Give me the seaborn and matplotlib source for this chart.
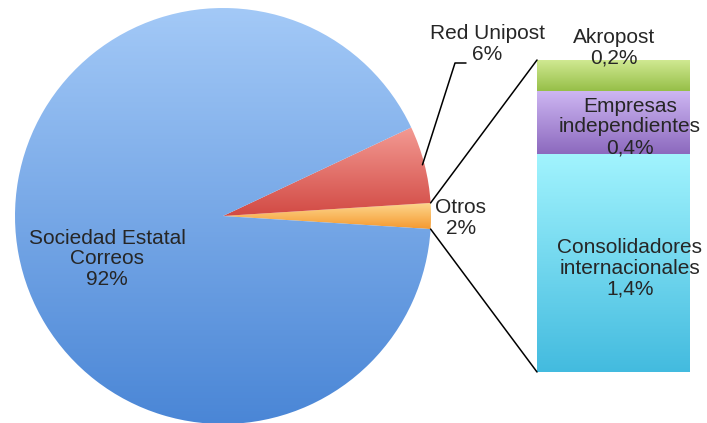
import matplotlib.pyplot as plt
import numpy as np
import seaborn as sns
from matplotlib.colors import LinearSegmentedColormap
from matplotlib.lines import Line2D
from matplotlib.patches import ConnectionPatch

### Data
pie_labels = ['Otros', 'Red Unipost', 'Sociedad Estatal\nCorreos']
pie_values = [2, 6, 92]
pie_tops = ['#FDD991', '#F39A93', '#A3C9F7']
pie_bottoms = ['#F5992F', '#D24A44', '#4A86D6']

bar_labels = ['Consolidadores\ninternacionales', 'Empresas\nindependientes', 'Akropost']
bar_values = [1.4, 0.4, 0.2]
bar_tops = ['#A2F4FE', '#CDB6F2', '#D2EA94']
bar_bottoms = ['#43BBDF', '#8C69BE', '#96BF48']

W, H = 707, 423


def fx(px):
    return px / W


def fy(py):
    return 1 - py / H


def fill_gradient(ax, patch, top, bottom, extent=None):
    """Paint a patch with a vertical gradient (light on top)."""
    cmap = LinearSegmentedColormap.from_list('g', [bottom, top])
    if extent is None:
        bb = patch.get_extents().transformed(ax.transData.inverted())
        extent = (bb.x0, bb.x1, bb.y0, bb.y1)
    grad = np.linspace(0, 1, 256).reshape(-1, 1)
    im = ax.imshow(grad, cmap=cmap, extent=extent, origin='lower',
                   aspect='auto', zorder=patch.get_zorder())
    im.set_clip_path(patch)
    patch.set_facecolor('none')


sns.set_theme(style='white')
plt.rcParams['font.family'] = ['Liberation Sans', 'DejaVu Sans']
FS = 15

fig = plt.figure(figsize=(W / 100, H / 100), dpi=100)
fig.patch.set_facecolor('white')

### Pie
cx, cy, r = 223, 216, 208
pax = fig.add_axes([fx(cx - r), fy(cy + r), (2 * r) / W, (2 * r) / H])
start = -pie_values[0] / 100 * 360 / 2
wedges, _ = pax.pie(pie_values, startangle=start, counterclock=True,
                    wedgeprops=dict(edgecolor='white', linewidth=0.6))
pax.set_xlim(-1, 1)
pax.set_ylim(-1, 1)
pax.set_aspect('equal')
for w, t, b in zip(wedges, pie_tops, pie_bottoms):
    fill_gradient(pax, w, t, b)
pax.set_xlim(-1, 1)
pax.set_ylim(-1, 1)
pax.axis('off')

### Stacked bar (cumulative bars drawn largest first)
bx0, bx1, by0, by1 = 537, 690, 60, 372
bax = fig.add_axes([fx(bx0), fy(by1), (bx1 - bx0) / W, (by1 - by0) / H])
cum = np.cumsum(bar_values)
for i in range(len(bar_values) - 1, -1, -1):
    sns.barplot(x=[0], y=[cum[i]], color=bar_bottoms[i], width=1,
                linewidth=0, ax=bax)
total = cum[-1]
bax.set_xlim(-0.5, 0.5)
bax.set_ylim(0, total)
patches = list(bax.patches)[::-1]
for i, p in enumerate(patches):
    lo = cum[i] - bar_values[i]
    fill_gradient(bax, p, bar_tops[i], bar_bottoms[i],
                  extent=(-0.5, 0.5, lo, cum[i]))
bax.set_xlim(-0.5, 0.5)
bax.set_ylim(0, total)
bax.axis('off')

### Connector lines between the "Otros" wedge and the bar
half = np.deg2rad(pie_values[0] / 100 * 360 / 2)
for sgn, yb in [(1, total), (-1, 0)]:
    con = ConnectionPatch(xyA=(np.cos(half), sgn * np.sin(half)), coordsA=pax.transData,
                          xyB=(-0.5, yb), coordsB=bax.transData,
                          color='black', linewidth=1.1)
    fig.add_artist(con)

### Labels
def pct(v):
    return f'{v}%'.replace('.', ',')

# Red Unipost with leader line
mid = np.deg2rad(start + (pie_values[0] + pie_values[1] / 2) / 100 * 360)
p0 = fig.transFigure.inverted().transform(
    pax.transData.transform((np.cos(mid) * 0.99, np.sin(mid) * 0.99)))
fig.add_artist(Line2D([p0[0], fx(455), fx(466)], [p0[1], fy(63), fy(63)],
                      color='black', linewidth=1.1, transform=fig.transFigure))
fig.text(fx(487), fy(44), f'{pie_labels[1]}\n{pct(pie_values[1])}', ha='center',
         va='center', fontsize=FS, linespacing=1.1)
fig.text(fx(461), fy(218), f'{pie_labels[0]}\n{pct(pie_values[0])}', ha='center',
         va='center', fontsize=FS, linespacing=1.1)
fig.text(fx(107), fy(259), f'{pie_labels[2]}\n{pct(pie_values[2])}', ha='center',
         va='center', fontsize=FS, linespacing=1.1)

bar_label_pos = [(630, 268), (630, 127), (614, 48)]
for lab, v, (x, y) in zip(bar_labels, bar_values, bar_label_pos):
    fig.text(fx(x), fy(y), f'{lab}\n{pct(v)}', ha='center', va='center',
             fontsize=FS, linespacing=1.1)

plt.savefig('out.png', dpi=100)
plt.close()
